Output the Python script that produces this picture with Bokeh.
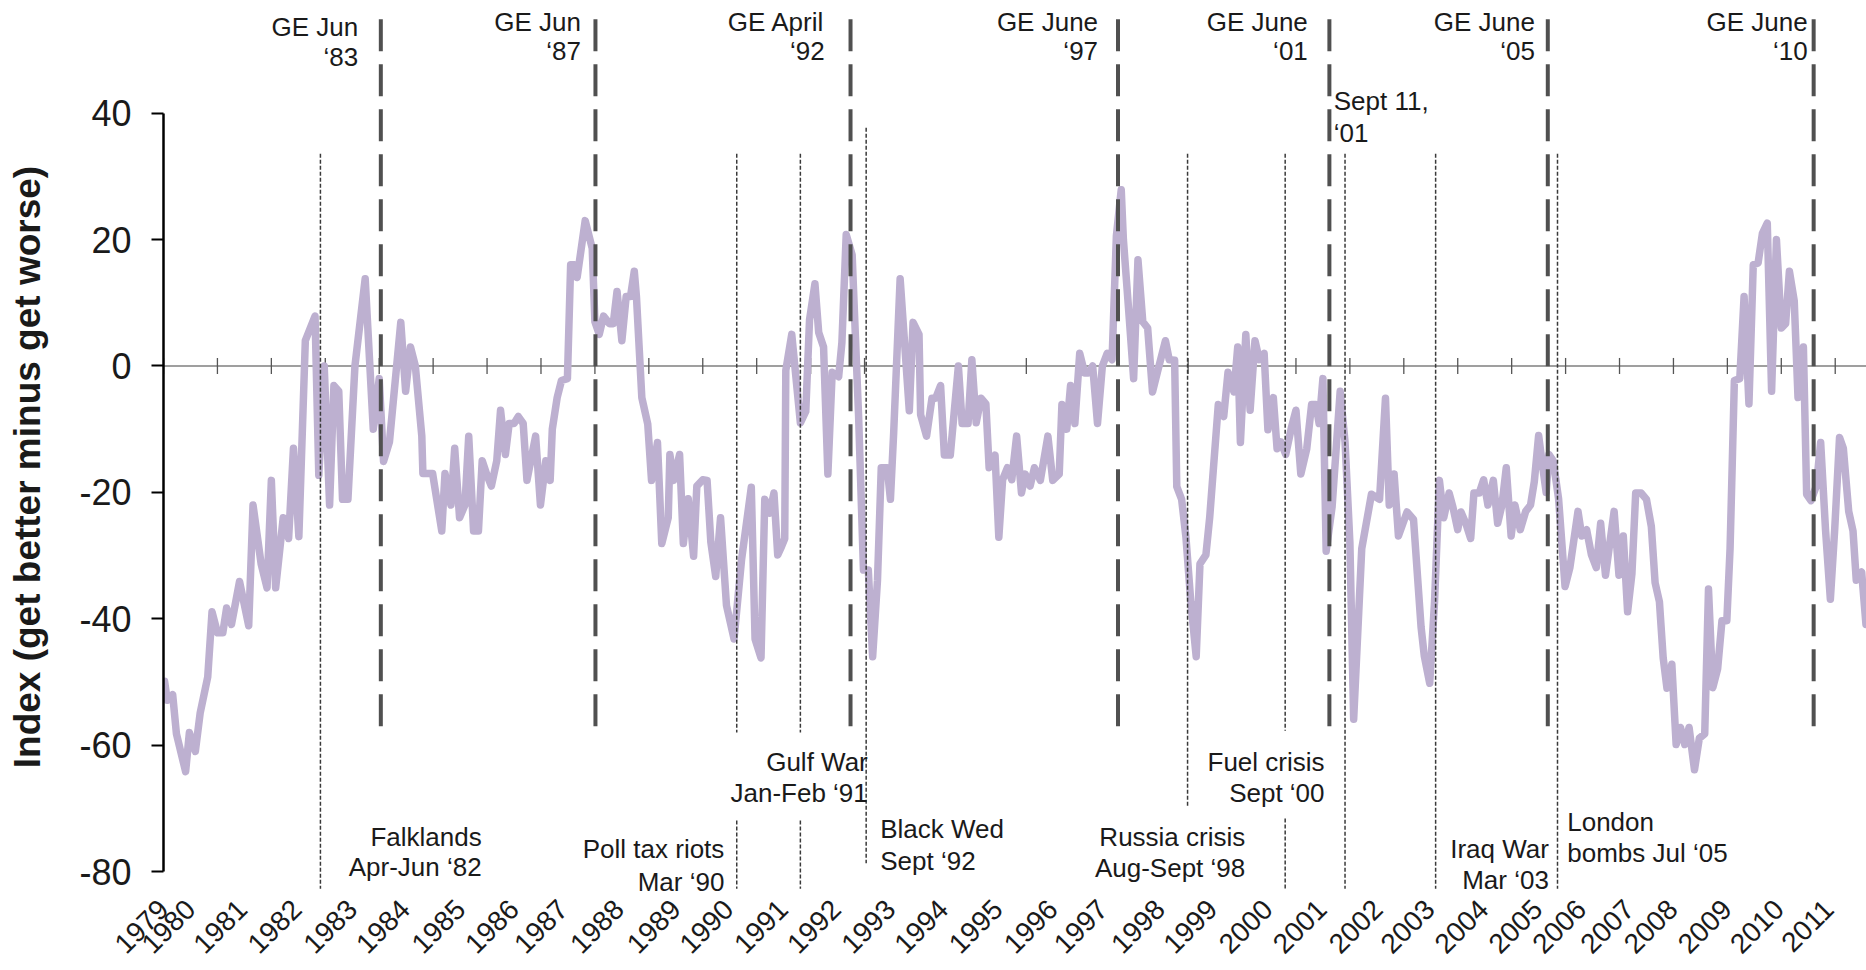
from math import pi
from bokeh.plotting import figure
from bokeh.models import Range1d, FixedTicker, Span, ColumnDataSource
from bokeh.core.properties import value
from bokeh.embed import file_html
from bokeh.resources import INLINE

# ---------------- data ----------------
# position along the (category) time axis: 1 unit = one year interval between axis ticks
t_1979_1990 = [0.02,0.07,0.17,0.24,0.41,0.48,0.59,0.68,0.82,0.90,
               1.00,1.10,1.17,1.26,1.41,1.58,1.66,1.81,1.92,2.00,
               2.08,2.22,2.32,2.41,2.51,2.63,2.81,2.88,2.98,3.08,
               3.16,3.25,3.32,3.42,3.55,3.74,3.89,4.00,4.08,4.19,
               4.40,4.49,4.58,4.67,4.79,4.81,4.99,5.16,5.22,5.33,
               5.40,5.49,5.59,5.66,5.75,5.84,5.91,6.00,6.08,6.18,
               6.25,6.34,6.41,6.50,6.58,6.67,6.74,6.90,6.99,7.09,
               7.17,7.21,7.30,7.38,7.49,7.55,7.62,7.67,7.82,7.95,
               8.00,8.08,8.16,8.27,8.34,8.41,8.50,8.58,8.66,8.73,
               8.77,8.87,8.98,9.05,9.16,9.24,9.36,9.39,9.46,9.57,
               9.64,9.73,9.83,9.89,10.00,10.08,10.15,10.24,10.33,10.44,
               10.58,10.72]
v_1979_1990 = [-49.9,-52.9,-52.0,-58.2,-64.2,-58.0,-61.0,-54.9,-49.2,-38.9,
               -42.2,-42.2,-38.3,-40.9,-34.1,-41.1,-22.0,-31.3,-35.1,-18.1,
               -35.1,-24.0,-27.3,-13.0,-27.0,4.0,7.9,-17.3,0.0,-22.0,
               -3.1,-4.0,-21.1,-21.1,0.0,13.8,-10.0,-2.0,-15.1,-12.0,
               6.9,-4.0,3.0,0.0,-11.1,-17.0,-17.0,-26.1,-17.0,-22.0,
               -13.0,-24.0,-22.0,-11.1,-26.1,-26.1,-15.0,-17.3,-19.0,-15.0,
               -7.0,-14.0,-9.1,-9.1,-8.0,-9.1,-18.1,-11.1,-22.0,-15.0,
               -18.1,-10.0,-5.0,-2.3,-2.0,16.0,16.0,14.0,23.0,18.6,
               7.0,5.0,7.9,6.7,6.7,11.8,4.0,11.0,11.0,15.0,
               11.0,-5.0,-9.2,-18.1,-12.1,-28.1,-24.0,-14.0,-18.1,-14.0,
               -28.1,-21.0,-30.1,-19.0,-18.0,-18.1,-27.9,-33.3,-24.0,-37.9,
               -43.2,-30.6]

t_1990_2001 = [10.90,10.97,11.08,11.15,11.24,11.32,11.39,11.46,11.52,11.54,
               11.65,11.81,11.91,11.98,12.08,12.15,12.24,12.32,12.40,12.52,
               12.58,12.66,12.77,12.89,12.98,13.07,13.15,13.24,13.31,13.42,
               13.48,13.54,13.66,13.83,13.90,14.01,14.04,14.15,14.25,14.32,
               14.41,14.48,14.59,14.74,14.81,14.92,14.99,15.07,15.16,15.25,
               15.31,15.42,15.49,15.56,15.65,15.73,15.82,15.91,15.98,16.07,
               16.15,16.26,16.40,16.49,16.61,16.66,16.75,16.82,16.90,16.99,
               17.08,17.15,17.23,17.32,17.41,17.50,17.59,17.67,17.76,17.80,
               17.90,17.99,18.07,18.16,18.25,18.34,18.43,18.58,18.65,18.75,
               18.79,18.88,18.96,19.05,19.15,19.22,19.33,19.40,19.56,19.66,
               19.74,19.85,19.92,19.97,20.07,20.15,20.24,20.32,20.41,20.48,
               20.58,20.65,20.72,20.81,20.92,21.00,21.09,21.20,21.29,21.37,
               21.43,21.50]
v_1990_2001 = [-19.2,-43.2,-46.2,-21.1,-23.3,-20.1,-29.9,-28.6,-27.3,-0.7,
               5.0,-9.0,-7.2,7.3,13.0,5.3,3.0,-17.1,-1.0,-1.7,
               3.7,20.8,17.6,-8.0,-32.3,-32.3,-46.0,-33.9,-16.1,-16.1,
               -21.1,-10.6,13.8,-7.1,6.9,5.0,-7.7,-11.1,-5.1,-5.1,
               -3.1,-14.1,-14.1,0.0,-9.1,-9.1,1.0,-9.0,-5.1,-6.0,
               -16.1,-14.1,-27.1,-18.0,-16.1,-18.0,-11.1,-20.1,-17.1,-19.0,
               -16.1,-18.1,-11.1,-18.1,-17.1,-6.1,-10.0,-3.1,-9.1,2.0,
               -1.1,-1.1,0.0,-9.1,0.0,2.0,1.0,20.6,27.9,20.0,
               8.6,-2.0,16.8,7.0,6.0,-4.1,-1.0,4.0,1.0,0.9,
               -19.1,-21.1,-27.1,-37.3,-46.0,-31.3,-29.9,-24.0,-6.1,-8.0,
               -1.0,-4.1,3.0,-12.1,5.0,-7.0,4.0,1.0,2.0,-10.1,
               -5.0,-13.1,-12.0,-14.0,-9.6,-7.0,-17.1,-13.1,-6.1,-6.1,
               -9.1,-2.0]

t_2001_2011 = [21.56,21.67,21.82,21.91,22.00,22.07,22.22,22.40,22.55,22.66,
               22.73,22.82,22.90,23.06,23.18,23.32,23.38,23.48,23.57,23.66,
               23.74,23.84,23.91,24.00,24.06,24.15,24.24,24.30,24.40,24.48,
               24.56,24.66,24.74,24.82,24.90,24.99,25.06,25.16,25.26,25.35,
               25.42,25.50,25.56,25.64,25.69,25.77,25.87,25.99,26.08,26.23,
               26.30,26.39,26.48,26.57,26.65,26.74,26.90,26.99,27.07,27.15,
               27.23,27.30,27.40,27.50,27.59,27.66,27.74,27.81,27.88,27.97,
               28.05,28.13,28.21,28.29,28.39,28.48,28.58,28.65,28.73,28.82,
               28.90,28.99,29.05,29.13,29.23,29.31,29.40,29.48,29.57,29.65,
               29.74,29.82,29.91,30.00,30.08,30.15,30.24,30.31,30.41,30.47,
               30.55,30.65,30.73,30.82,30.91,30.99,31.08,31.15,31.25,31.33,
               31.39,31.49,31.57]
v_2001_2011 = [-29.3,-22.3,-4.0,-12.0,-27.9,-55.9,-28.9,-20.3,-21.1,-5.1,
               -22.0,-17.1,-26.9,-23.1,-24.3,-41.3,-45.9,-50.2,-37.3,-18.1,
               -24.0,-20.1,-22.3,-25.9,-23.1,-24.9,-27.3,-20.1,-20.1,-18.0,
               -22.0,-18.1,-24.9,-22.0,-16.1,-26.9,-22.0,-25.9,-23.0,-22.0,
               -18.3,-11.0,-15.0,-20.0,-14.0,-15.0,-21.0,-34.9,-31.9,-23.0,
               -26.9,-25.9,-29.9,-31.9,-24.9,-33.1,-23.0,-33.1,-26.9,-38.9,
               -32.9,-20.1,-20.1,-21.1,-25.4,-34.3,-37.3,-46.2,-51.0,-47.2,
               -59.9,-57.2,-59.9,-57.2,-63.9,-58.9,-58.2,-35.3,-50.9,-47.9,
               -40.3,-40.3,-28.9,-2.3,-2.0,11.0,-6.0,16.0,16.3,21.0,
               22.6,-4.0,20.0,6.0,6.7,15.0,10.3,-5.0,3.0,-20.3,
               -21.3,-19.0,-12.1,-25.9,-36.9,-25.9,-11.3,-13.0,-23.0,-26.1,
               -33.9,-32.6,-40.9]

year_labels = [str(y) for y in range(1979, 2012)]
year_label_pos = [0.0, 0.5, 1.46, 2.47, 3.5, 4.48, 5.51, 6.5, 7.41, 8.45,
                  9.5, 10.48, 11.49, 12.47, 13.48, 14.46, 15.47, 16.49, 17.42, 18.48,
                  19.45, 20.48, 21.48, 22.52, 23.48, 24.48, 25.48, 26.29, 27.18, 27.99,
                  28.99, 29.96, 30.88]
year_ticks = list(range(0, 32))

y_ticks = [-80, -60, -40, -20, 0, 20, 40]
y_tick_labels = ["-80", "-60", "-40", "-20", "0", "20", "40"]
y_title = "Index (get better minus get worse)"

# general elections
election_pos = [4.03, 8.01, 12.74, 17.70, 21.62, 25.67, 30.60]
election_line1 = ["GE Jun", "GE Jun", "GE April", "GE June", "GE June", "GE June", "GE June"]
election_line2 = ["\u201883", "\u201887", "\u201892", "\u201897", "\u201801", "\u201805", "\u201810"]

# other events
event_pos = [2.91, 10.63, 11.81, 13.03, 18.99, 20.80, 21.91, 23.59, 25.85]
event_line1 = ["Falklands", "Poll tax riots", "Gulf War", "Black Wed", "Russia crisis",
               "Fuel crisis", "Sept 11,", "Iraq War", "London"]
event_line2 = ["Apr-Jun \u201882", "Mar \u201890", "Jan-Feb \u201891", "Sept \u201892",
               "Aug-Sept \u201898", "Sept \u201800", "\u201801", "Mar \u201803", "bombs Jul \u201805"]

# ---------------- layout (annotation placement) ----------------
ge_label_x = [3.61, 7.74, 12.26, 17.33, 21.22, 25.43, 30.49]
ge_label_y1 = [53.6, 54.4, 54.4, 54.4, 54.4, 54.4, 54.4]
ge_label_y2 = [48.9, 49.8, 49.8, 49.8, 49.8, 49.8, 49.8]
ge_line_bottom, ge_line_top = -57.0, 55.8

ev_label_x = [5.90, 10.40, 13.06, 13.29, 20.06, 21.53, 21.70, 25.69, 26.03]
ev_label_y1 = [-74.45, -76.5, -62.6, -73.3, -74.45, -62.6, 41.9, -76.5, -72.1]
ev_label_y2 = [-79.35, -81.6, -67.6, -78.4, -79.45, -67.6, 36.8, -81.4, -77.1]
ev_label_align = ["right", "right", "right", "left", "right", "right", "left", "right", "left"]
# vertical extents of the dotted event lines (pieces, to leave room for labels)
ev_pieces = [
    (0, 33.6, -82.7),
    (1, 33.6, -58.0), (1, -71.9, -82.7),
    (2, 33.6, -58.0), (2, -71.9, -82.7),
    (3, 37.7, -78.7),
    (4, 33.6, -69.9),
    (5, 33.6, -57.7), (5, -71.6, -82.7),
    (6, 33.6, -82.7),
    (7, 33.6, -82.7),
    (8, 33.6, -82.7),
]

FONT = "Liberation Sans"
TXT = "#1a1a1a"

p = figure(width=1866, height=970,
           x_range=Range1d(0, 31.58), y_range=Range1d(-83.31, 57.83),
           output_backend="svg", toolbar_location=None,
           min_border_left=163, min_border_right=0, min_border_top=0, min_border_bottom=78)
p.outline_line_color = None
p.grid.visible = False
p.background_fill_color = "white"

# zero line with year tick marks
p.add_layout(Span(location=0, dimension="width", line_color="#7f7f7f", line_width=1.6, level="underlay"))
p.segment(x0=year_ticks, y0=[-1.27] * len(year_ticks), x1=year_ticks, y1=[1.27] * len(year_ticks),
          line_color="#555555", line_width=1.3)

# the series
t_all = t_1979_1990 + t_1990_2001 + t_2001_2011
v_all = v_1979_1990 + v_1990_2001 + v_2001_2011
p.line(t_all, v_all, line_color="#bdb0d0", line_width=7.5, line_join="round", line_cap="round")

# dotted event lines
p.segment(x0=[event_pos[i] for i, a, b in ev_pieces], y0=[a for i, a, b in ev_pieces],
          x1=[event_pos[i] for i, a, b in ev_pieces], y1=[b for i, a, b in ev_pieces],
          line_color="#3a3a3a", line_width=1.5, line_dash="4 2")

# dashed election lines (drawn upward from the bottom)
p.segment(x0=election_pos, y0=[ge_line_bottom] * len(election_pos),
          x1=election_pos, y1=[ge_line_top] * len(election_pos),
          line_color="#505050", line_width=4, line_dash="32 13")

# texts
ge_src = ColumnDataSource(dict(x=ge_label_x + ge_label_x, y=ge_label_y1 + ge_label_y2,
                               text=election_line1 + election_line2))
p.text(x="x", y="y", text="text", source=ge_src, text_align="right", text_baseline="middle",
       text_font=value(FONT), text_font_size="26px", text_color=TXT)
ev_src = ColumnDataSource(dict(x=ev_label_x + ev_label_x, y=ev_label_y1 + ev_label_y2,
                               text=event_line1 + event_line2, align=ev_label_align + ev_label_align))
p.text(x="x", y="y", text="text", source=ev_src, text_align="align", text_baseline="middle",
       text_font=value(FONT), text_font_size="26px", text_color=TXT)

# y axis
ya = p.yaxis[0]
ya.ticker = FixedTicker(ticks=y_ticks)
ya.major_label_overrides = {t: s for t, s in zip(y_ticks, y_tick_labels)}
ya.bounds = (-80, 40)
ya.axis_line_color = "black"
ya.axis_line_width = 2.5
ya.major_tick_line_color = "black"
ya.major_tick_line_width = 2
ya.major_tick_out = 12
ya.major_tick_in = 0
ya.minor_tick_line_color = None
ya.major_label_text_font = FONT
ya.major_label_text_font_size = "36px"
ya.major_label_text_color = TXT
ya.major_label_standoff = 20
# trailing no-break spaces nudge the centred title down to where the reference has it
ya.axis_label = y_title + "\u00a0" * 4
ya.axis_label_text_font = FONT
ya.axis_label_text_font_style = "bold"
ya.axis_label_text_font_size = "37px"
ya.axis_label_text_color = TXT
ya.axis_label_standoff = 28

# x axis (year labels only)
xa = p.xaxis[0]
xa.ticker = FixedTicker(ticks=year_label_pos)
xa.major_label_overrides = {pos: lab for pos, lab in zip(year_label_pos, year_labels)}
xa.major_label_orientation = pi / 4
xa.axis_line_color = None
xa.major_tick_line_color = None
xa.minor_tick_line_color = None
xa.major_label_text_font = FONT
xa.major_label_text_font_size = "28px"
xa.major_label_text_color = TXT
xa.major_label_standoff = 6

open("out.html", "w").write(file_html(p, INLINE))
